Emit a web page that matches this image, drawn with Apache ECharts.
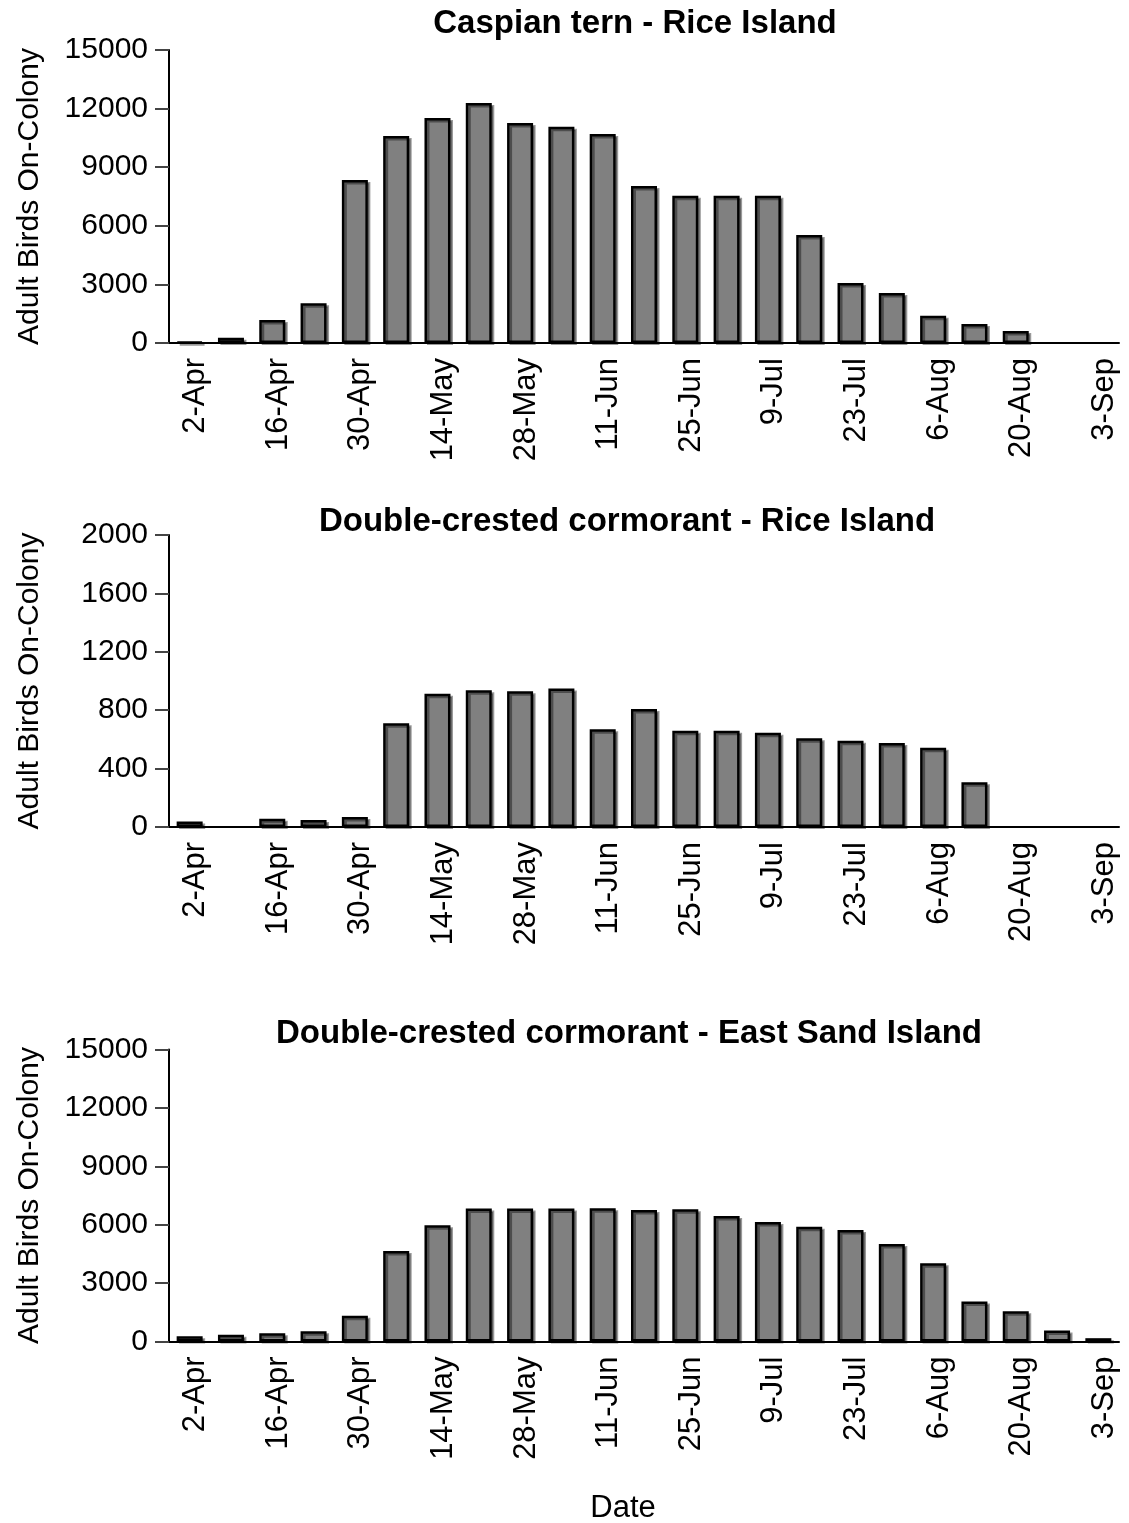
<!DOCTYPE html>
<html>
<head>
<meta charset="utf-8">
<script src="https://cdn.jsdelivr.net/npm/echarts@6/dist/echarts.min.js"></script>
<style>html,body{margin:0;padding:0;background:#fff}#c{width:1129px;height:1523px}</style>
</head>
<body>
<div id="c"></div>
<script>
const categories = ['2-Apr','9-Apr','16-Apr','23-Apr','30-Apr','7-May','14-May','21-May','28-May','4-Jun','11-Jun','18-Jun','25-Jun','2-Jul','9-Jul','16-Jul','23-Jul','30-Jul','6-Aug','13-Aug','20-Aug','27-Aug','3-Sep'];
const ternRice = [60, 270, 1180, 2030, 8340, 10600, 11520, 12290, 11260, 11070, 10700, 8040, 7540, 7540, 7540, 5530, 3070, 2560, 1400, 970, 610, null, null];
const cormRice = [37, null, 57, 48, 69, 711, 912, 937, 930, 949, 670, 809, 659, 659, 645, 608, 590, 576, 542, 306, null, null, null];
const cormESI = [274, 343, 428, 530, 1320, 4650, 5970, 6830, 6830, 6830, 6850, 6750, 6790, 6450, 6140, 5900, 5730, 5010, 4020, 2050, 1560, 565, 170];
const titles = ['Caspian tern - Rice Island', 'Double-crested cormorant - Rice Island', 'Double-crested cormorant - East Sand Island'];
const yMax = [15000, 2000, 15000];
const yInterval = [3000, 400, 3000];
const yName = 'Adult Birds On-Colony';
const xName = 'Date';

const FONT = 'Liberation Sans, Arial, Helvetica, sans-serif';
const gridTops = [50, 535, 1049.5];
const gridHeights = [293, 292, 292];
const titleY = [19, 517, 1029];
const titleX = [630, 622, 624];
const seriesData = [ternRice, cormRice, cormESI];

const option = {
  backgroundColor: '#fff',
  animation: false,
  title: titles.map((t, i) => ({
    text: t, left: titleX[i], top: titleY[i], textAlign: 'center', textVerticalAlign: 'middle',
    textStyle: {fontFamily: FONT, fontSize: 33, fontWeight: 'bold', color: '#000'}
  })).concat([{
    text: xName, left: 618, top: 1503, textAlign: 'center', textVerticalAlign: 'middle',
    textStyle: {fontFamily: FONT, fontSize: 31, fontWeight: 'normal', color: '#000'}
  }]),
  grid: gridTops.map((t, i) => ({left: 169, right: 10, top: t, height: gridHeights[i], containLabel: false})),
  xAxis: gridTops.map((t, i) => ({
    type: 'category', gridIndex: i, data: categories, boundaryGap: true,
    axisLine: {show: true, lineStyle: {color: '#000', width: 2}},
    axisTick: {show: false},
    splitLine: {show: false},
    axisLabel: {interval: 1, rotate: 90, margin: 15, verticalAlign: 'top', lineHeight: 12,
      fontFamily: FONT, fontSize: 31, color: '#000'}
  })),
  yAxis: gridTops.map((t, i) => ({
    type: 'value', gridIndex: i, min: 0, max: yMax[i], interval: yInterval[i],
    name: yName, nameLocation: 'middle', nameRotate: 90, nameGap: 124,
    nameTextStyle: {fontFamily: FONT, fontSize: 30, color: '#000'},
    axisLine: {show: true, lineStyle: {color: '#000', width: 2}},
    axisTick: {show: true, length: 14, lineStyle: {color: '#444', width: 2}},
    splitLine: {show: false},
    axisLabel: {margin: 21, fontFamily: FONT, fontSize: 30, color: '#000', formatter: v => String(v)}
  })),
  series: seriesData.map((d, i) => ({
    type: 'bar', xAxisIndex: i, yAxisIndex: i, data: d, barWidth: 26,
    itemStyle: {color: '#808080', borderColor: '#000', borderWidth: 2.5,
      shadowColor: 'rgba(0,0,0,0.4)', shadowOffsetX: 2.5, shadowOffsetY: 2, shadowBlur: 0}
  }))
};
const chart = echarts.init(document.getElementById('c'), null, {renderer: 'canvas'});
chart.setOption(option);
</script>
</body>
</html>
